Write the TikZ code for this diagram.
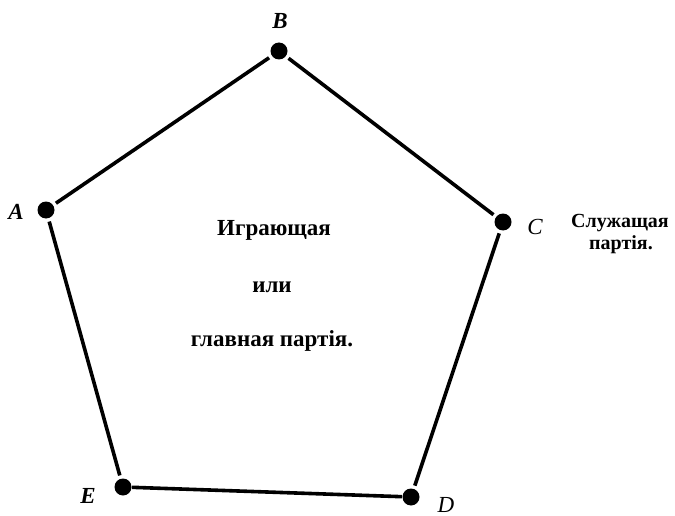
\documentclass[tikz,border=0pt]{standalone}
\usepackage{fontspec}
\setmainfont{Liberation Serif}
\begin{document}
\begin{tikzpicture}[x=1pt,y=-1pt,
  dot/.style={circle,fill=black,inner sep=0pt,minimum size=17pt,outer sep=3.5pt},
  edge/.style={line width=3.6pt},
  lbl/.style={font=\fontsize{23}{23}\selectfont\bfseries\itshape,inner sep=0pt},
  lblr/.style={font=\fontsize{23}{23}\selectfont\itshape,inner sep=0pt},
  txt/.style={font=\fontsize{23}{23}\selectfont\bfseries,inner sep=0pt,anchor=base},
  sidetxt/.style={txt,font=\fontsize{20}{20}\selectfont\bfseries},
]
\useasboundingbox (0,0) rectangle (675,516);
\node[dot] (A) at (46,210) {};
\node[dot] (B) at (279,51) {};
\node[dot] (C) at (503,222) {};
\node[dot] (D) at (411,497) {};
\node[dot] (E) at (123,487) {};
\node[lbl] (lA) at (16,212) {A};
\node[lbl] (lB) at (280,21) {B};
\node[lblr] (lC) at (535,227) {C};
\node[lblr] (lD) at (446,505) {D};
\node[lbl] (lE) at (88,496) {E};
\draw[edge] (A) -- (B);
\draw[edge] (B) -- (C);
\draw[edge] (C) -- (D);
\draw[edge,shorten <=-3pt,shorten >=-3pt] (E) -- (D);
\draw[edge] (A) -- (E);
\node[txt] (t1) at (274,235) {Играющая};
\node[txt] (t2) at (272,292) {или};
\node[txt] (t3) at (272,346) {главная партія.};
\node[sidetxt] (t4) at (620,227) {Служащая};
\node[sidetxt] (t5) at (621,249) {партія.};
\end{tikzpicture}
\end{document}
